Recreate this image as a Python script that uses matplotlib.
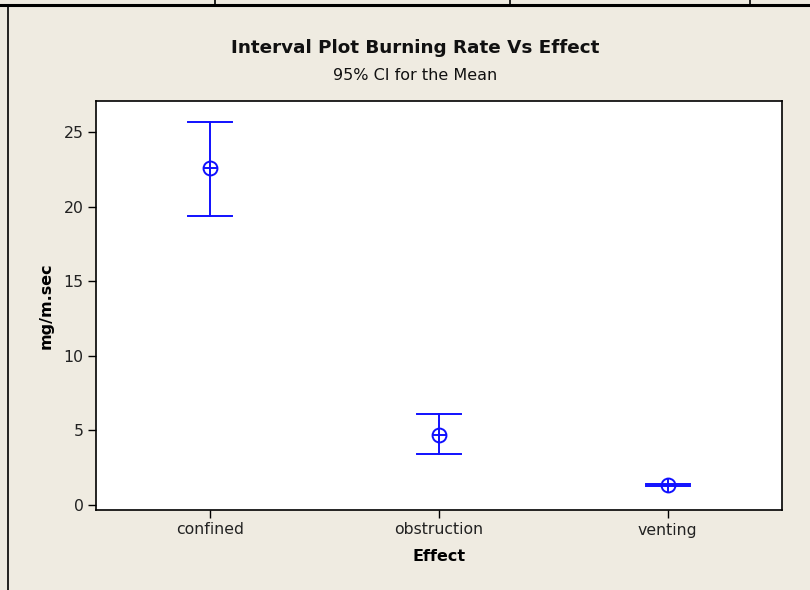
import matplotlib
matplotlib.use("Agg")
import matplotlib.pyplot as plt
from matplotlib.lines import Line2D

categories = ["confined", "obstruction", "venting"]
means = [22.6, 4.7, 1.33]
upper = [25.7, 6.1, 1.39]
lower = [19.4, 3.4, 1.27]
yticks = [0, 5, 10, 15, 20, 25]

bg = "#EFEBE1"
blue = "#1010FF"

plt.rcParams["font.family"] = ["DejaVu Sans"]
fig = plt.figure(figsize=(8.1, 5.9), dpi=100, facecolor=bg)
W, H = 810, 590
ax = fig.add_axes([96 / W, 1 - 510 / H, (782 - 96) / W, (510 - 101) / H])
ax.set_facecolor("white")

x = list(range(len(categories)))
cap = 0.096
for xi, m, lo, hi in zip(x, means, lower, upper):
    ax.plot([xi, xi], [lo, hi], color=blue, lw=1.4)
    ax.plot([xi - cap, xi + cap], [hi, hi], color=blue, lw=1.4)
    ax.plot([xi - cap, xi + cap], [lo, lo], color=blue, lw=1.4)
ax.plot(x, means, ls="none", marker="o", ms=10, mfc="none", mec=blue, mew=1.4)
ax.plot(x, means, ls="none", marker="+", ms=10, mec=blue, mew=1.4)

ax.set_xlim(-0.5, 2.5)
ax.set_ylim(-0.33, 27.08)
ax.set_xticks(x)
ax.set_xticklabels(categories, fontsize=11.3, color="#222222")
ax.set_yticks(yticks)
ax.set_yticklabels([str(v) for v in yticks], fontsize=11.3, color="#222222")
ax.tick_params(axis="both", direction="out", length=6, width=1, color="black", pad=3)
ax.tick_params(top=False, right=False)
for s in ax.spines.values():
    s.set_linewidth(1.2)
    s.set_color("black")

ax.set_xlabel("Effect", fontsize=11.5, fontweight="bold", labelpad=8)
ax.set_ylabel("mg/m.sec", fontsize=11.5, fontweight="bold", labelpad=7)

fig.text(415 / W, 1 - 48 / H, "Interval Plot Burning Rate Vs Effect", ha="center", va="center",
         fontsize=13.2, fontweight="bold", color="#111111")
fig.text(415 / W, 1 - 75 / H, "95% CI for the Mean", ha="center", va="center",
         fontsize=11.5, color="#111111")

# frame lines (document table borders)
fig.add_artist(Line2D([0, 1], [1 - 5 / H, 1 - 5 / H], transform=fig.transFigure, color="black", lw=2.2))
for xv in [215, 510, 750]:
    fig.add_artist(Line2D([xv / W, xv / W], [1, 1 - 5 / H], transform=fig.transFigure, color="black", lw=1.2))
fig.add_artist(Line2D([8 / W, 8 / W], [1 - 5 / H, 0], transform=fig.transFigure, color="black", lw=1.2))

fig.savefig("out.png", dpi=100, facecolor=bg)
